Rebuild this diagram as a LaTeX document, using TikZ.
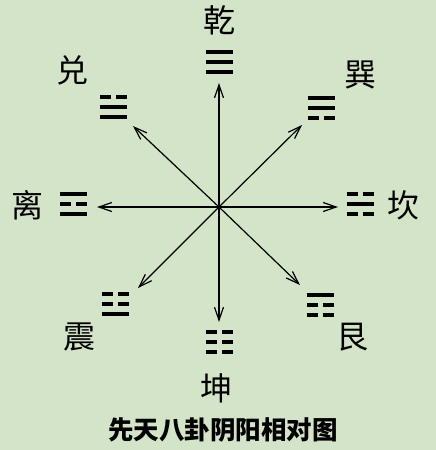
\documentclass[tikz,border=0pt]{standalone}
\usepackage{fontspec}
\newfontfamily\cjk{Noto Sans CJK SC}
\usetikzlibrary{arrows.meta}
\definecolor{bagreen}{RGB}{212,228,200}

\begin{document}
\begin{tikzpicture}[x=1pt, y=1pt,
    gualabel/.style={font=\cjk\fontsize{32}{32}\selectfont},
    spoke/.style={line width=1.2pt, -{Straight Barb[length=13pt,width=9pt]}},
    pics/gua/.style={code={
      \foreach \b [count=\i] in {#1} {
        \pgfmathsetmacro\yy{20-10*\i}
        \ifnum\b=1\relax
          \draw[line width=4pt] (-13.5,\yy) -- (13.5,\yy);
        \else
          \draw[line width=4pt] (-13.5,\yy) -- (-2.5,\yy) (2.5,\yy) -- (13.5,\yy);
        \fi
      }}}]
    \fill[bagreen] (-219,-243) rectangle (217,207);
    \useasboundingbox (-219,-243) rectangle (217,207);
    \coordinate (o) at (0,0);
    \coordinate (tqian) at (0,124);
    \coordinate (tkun) at (0,-115);
    \coordinate (tli) at (-122,0);
    \coordinate (tkan) at (119,0);
    \coordinate (tdui) at (-86,81);
    \coordinate (txun) at (83,82);
    \coordinate (tzhen) at (-81,-81);
    \coordinate (tgen) at (81,-78);
    \draw[spoke] (o) -- (tqian);
    \draw[spoke] (o) -- (tkun);
    \draw[spoke] (o) -- (tli);
    \draw[spoke] (o) -- (tkan);
    \draw[spoke] (o) -- (tdui);
    \draw[spoke] (o) -- (txun);
    \draw[spoke] (o) -- (tzhen);
    \draw[spoke] (o) -- (tgen);
    % trigrams, top line first
    \pic at (1,145) {gua={1,1,1}};
    \pic at (102,99) {gua={1,1,0}};
    \pic at (-105,100) {gua={0,1,1}};
    \pic at (-145,3) {gua={1,0,1}};
    \pic at (141,3) {gua={0,1,0}};
    \pic at (-103,-97) {gua={0,0,1}};
    \pic at (1,-135) {gua={0,0,0}};
    \pic at (101,-98) {gua={1,0,0}};
    \node[gualabel] (qian) at (1,187) {乾};
    \node[gualabel] (xun) at (141,132) {巽};
    \node[gualabel] (dui) at (-146,137) {兑};
    \node[gualabel] (li) at (-191,2) {离};
    \node[gualabel] (kan) at (184,2) {坎};
    \node[gualabel] (zhen) at (-139,-130) {震};
    \node[gualabel] (kun) at (-2,-181) {坤};
    \node[gualabel] (gen) at (133,-130) {艮};
    \node[font=\cjk\bfseries\fontsize{25.5}{25.5}\selectfont] (title) at (4,-223) {先天八卦阴阳相对图};
\end{tikzpicture}
\end{document}
